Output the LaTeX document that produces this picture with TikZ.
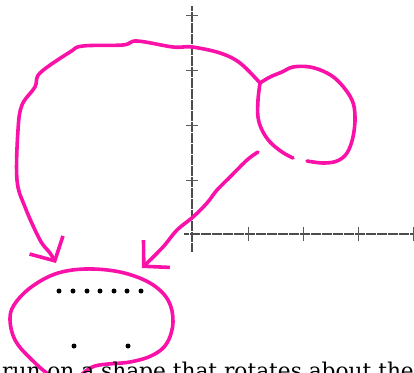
\documentclass[tikz,border=0pt]{standalone}
\usepackage{fontspec}
\setmainfont{DejaVu Serif}
\usepackage{tikz}
\usetikzlibrary{arrows.meta}
\definecolor{marker}{RGB}{250,18,168}

\begin{document}
\begin{tikzpicture}[x=1pt, y=-1pt,
    pen/.style={draw=marker, line width=3.6pt, line cap=round, line join=round},
    barb/.style={-{Straight Barb[length=18pt, width=38pt]}},
    axis/.style={draw=black!70, line width=2pt, dash pattern=on 0.5pt off 0.6pt},
    tick/.style={draw=black!65, line width=0.9pt},
    dot/.style={circle, fill=black, inner sep=0pt, minimum size=5pt}]
  \path[use as bounding box, clip] (0,0) rectangle (414,372);

  % axes
  \coordinate (o) at (192,234);
  \draw[axis] (192,6) -- (o) -- (192,252);
  \draw[axis] (184,234) -- (o) -- (414,234);
  \foreach \y in {15,70,125,180}
    \draw[tick] (186,\y) -- (198,\y);
  \foreach \x in {248,303,358,413}
    \draw[tick] (\x,227) -- (\x,241);

  % arrow ends and the joint on the blob
  \coordinate (join) at (260,83);
  \coordinate (tipL) at (56,263);
  \coordinate (tipR) at (142,268);

  % long curve round the top
  \draw[pen, barb] plot[smooth, tension=0.6] coordinates {(join) (240,63) (220,53) (192,47)
    (173,47) (137,41) (123,45) (83,46) (70,52) (40,73) (35,87) (22,105) (18,130)
    (17,180) (25,207) (40,240) (50,253) (tipL)};

  % the blob
  \draw[pen] plot[smooth, tension=0.6] coordinates {(join) (270,77) (282,72) (293,67)
    (310,67) (327,73) (340,83) (352,100) (355,117) (353,137) (347,153) (337,161)
    (323,163) (307,161)};
  \draw[pen] plot[smooth, tension=0.6] coordinates {(join) (258,100) (258,117)
    (262,130) (270,142) (282,152) (293,158)};

  % diagonal stroke
  \draw[pen, barb] plot[smooth, tension=0.6] coordinates {(258,152) (247,160) (230,177)
    (217,190) (207,203) (193,217) (177,230) (163,247) (tipR)};

  % the oval
  \draw[pen] plot[smooth cycle, tension=0.6] coordinates {(95,366) (130,362) (153,355)
    (167,343) (173,322) (168,300) (150,283) (120,272) (85,269) (55,274) (30,288)
    (14,305) (10,320) (15,340) (30,358) (52,376) (75,378)};

  % dots
  \foreach \x [count=\i] in {59,73,87,100,114,127,141}
    \node[dot] (top\i) at (\x,291) {};
  \node[dot] (lowA) at (74,346) {};
  \node[dot] (lowB) at (128,346) {};

  % cut-off text line
  \node[anchor=base west, inner sep=0pt, font=\fontsize{21.7}{22}\selectfont]
    (caption) at (2,378) {run on a shape that rotates about the};
\end{tikzpicture}
\end{document}
